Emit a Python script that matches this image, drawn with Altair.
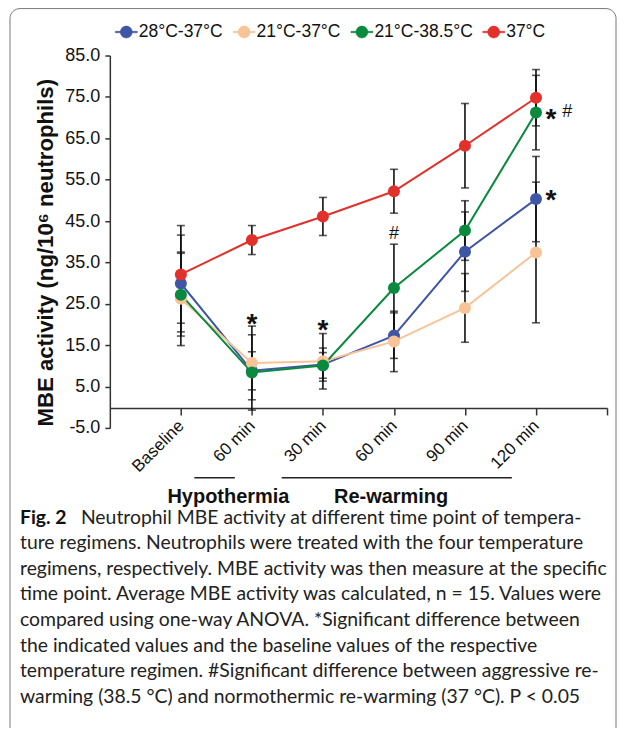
import altair as alt
import pandas as pd

FONT = "Liberation Sans"
CAPFONT = "Lato"

categories = ["Baseline", "60 min", "30 min", "60 min", "90 min", "120 min"]
positions = [1, 2, 3, 4, 5, 6]
series_names = ["28°C-37°C", "21°C-37°C", "21°C-38.5°C", "37°C"]
series_colors = ["#3F56A6", "#F8C497", "#0A8A3E", "#E2312A"]

mean_28_37 = [29.9, 8.8, 10.3, 17.3, 37.6, 50.3]
err_28_37 = [11.7, 4.6, 4.0, 5.5, 9.6, 10.3]
mean_21_37 = [26.2, 10.7, 11.1, 15.9, 24.0, 37.4]
err_21_37 = [11.3, 8.9, 6.7, 7.3, 8.3, 17.0]
mean_21_385 = [27.2, 8.4, 10.1, 28.8, 42.7, 71.2]
err_21_385 = [10.0, 9.1, 3.1, 10.6, 7.2, 9.0]
mean_37 = [32.1, 40.4, 46.1, 52.2, 63.2, 74.8]
err_37 = [11.8, 3.5, 4.6, 5.3, 10.2, 6.8]

star_pos = [2, 3, 6.21, 6.21]
star_val = [21.7, 20.3, 71.4, 51.8]
hash_pos = [4, 6.44]
hash_val = [42.2, 71.6]

phase_names = ["Hypothermia", "Re-warming"]
phase_start = [1.19, 2.42]
phase_end = [1.76, 5.66]
phase_label_pos = [1.67, 3.96]

y_ticks = [-5, 5, 15, 25, 35, 45, 55, 65, 75, 85]
y_title = "MBE activity (ng/10⁶ neutrophils)"

caption_bold = "Fig. 2"
caption_first = "Neutrophil MBE activity at different time point of tempera-"
caption_rest = [
    "ture regimens. Neutrophils were treated with the four temperature",
    "regimens, respectively. MBE activity was then measure at the specific",
    "time point. Average MBE activity was calculated, n = 15. Values were",
    "compared using one-way ANOVA. *Significant difference between",
    "the indicated values and the baseline values of the respective",
    "temperature regimen. #Significant difference between aggressive re-",
    "warming (38.5 °C) and normothermic re-warming (37 °C). P < 0.05",
]

rows = []
for name, means, errs in zip(series_names,
                             [mean_28_37, mean_21_37, mean_21_385, mean_37],
                             [err_28_37, err_21_37, err_21_385, err_37]):
    for p, m, e in zip(positions, means, errs):
        rows.append({"series": name, "pos": p, "mean": m, "lo": m - e, "hi": m + e})
df = pd.DataFrame(rows)

xs = alt.Scale(domain=[0, 7], nice=False, zero=False)
ys = alt.Scale(domain=[-5, 85], nice=False, zero=False)
cscale = alt.Scale(domain=series_names, range=series_colors)

sym_path = ("M-1,-0.065H-0.5V0.065H-1Z M0.5,-0.065H1V0.065H0.5Z "
            "M0.545,0A0.545,0.545,0,1,1,-0.545,0A0.545,0.545,0,1,1,0.545,0Z")
leg = alt.Legend(title=None, orient="none", legendX=5, legendY=-35,
                 direction="horizontal", symbolType=sym_path, symbolSize=484,
                 symbolStrokeWidth=0.5, labelFont=FONT, labelFontSize=17.5,
                 labelColor="#111", labelOffset=1, columnPadding=8, padding=0)

label_list = [""] + categories + [""]
label_expr = "[" + ",".join("'" + c + "'" for c in label_list) + "][datum.value]"

xaxis = alt.Axis(values=[1, 2, 3, 4, 5, 6, 7], labelExpr=label_expr, labelAngle=315,
                 labelAlign="right", labelBaseline="middle", labelFont=FONT,
                 labelFontSize=17, labelColor="#111", labelPadding=8, tickSize=7,
                 tickColor="#333", tickWidth=1.5, domainColor="#333", domainWidth=1.5,
                 offset=-20, grid=False, title=None, labelOverlap=False, labelFlush=False)
yaxis = alt.Axis(values=y_ticks,
                 labelExpr="datum.value < 0 ? '-' + format(-datum.value, '.1f') : format(datum.value, '.1f')",
                 labelFont=FONT, labelFontSize=18, labelColor="#111", labelPadding=5,
                 tickSize=5, tickColor="#333", tickWidth=1.5, domainColor="#333",
                 domainWidth=1.5, grid=False, title=y_title, titleFont=FONT,
                 titleFontSize=22.2, titleFontWeight="bold", titleColor="#111",
                 titleX=-64, titleY=197, titleAngle=270, titleAlign="center",
                 titleBaseline="middle", labelOverlap=False)

base = alt.Chart(df)

err_rule = base.mark_rule(color="#111", strokeWidth=1.6).encode(
    x=alt.X("pos:Q", scale=xs, axis=xaxis),
    y=alt.Y("lo:Q", scale=ys, axis=yaxis), y2="hi:Q")
cap_lo = base.mark_tick(orient="horizontal", size=8, thickness=1.6, color="#111").encode(
    x=alt.X("pos:Q", scale=xs, axis=xaxis), y=alt.Y("lo:Q", scale=ys, axis=yaxis))
cap_hi = base.mark_tick(orient="horizontal", size=8, thickness=1.6, color="#111").encode(
    x=alt.X("pos:Q", scale=xs, axis=xaxis), y=alt.Y("hi:Q", scale=ys, axis=yaxis))

lines = base.mark_line(strokeWidth=2).encode(
    x=alt.X("pos:Q", scale=xs, axis=xaxis),
    y=alt.Y("mean:Q", scale=ys, axis=yaxis),
    color=alt.Color("series:N", scale=cscale, legend=leg))
points = base.mark_point(filled=True, size=145, opacity=1, shape="circle").encode(
    x=alt.X("pos:Q", scale=xs, axis=xaxis),
    y=alt.Y("mean:Q", scale=ys, axis=yaxis),
    color=alt.Color("series:N", scale=cscale, legend=leg))

stars = alt.Chart(pd.DataFrame({"pos": star_pos, "val": star_val, "t": ["*"] * len(star_pos)})).mark_text(
    font=FONT, fontSize=28, fontWeight="bold", color="#111", dy=8, baseline="middle").encode(
    x=alt.X("pos:Q", scale=xs, axis=xaxis), y=alt.Y("val:Q", scale=ys, axis=yaxis), text="t:N")
hashes = alt.Chart(pd.DataFrame({"pos": hash_pos, "val": hash_val, "t": ["#"] * len(hash_pos)})).mark_text(
    font=FONT, fontSize=18, color="#111", dy=1, baseline="middle").encode(
    x=alt.X("pos:Q", scale=xs, axis=xaxis), y=alt.Y("val:Q", scale=ys, axis=yaxis), text="t:N")

phase_df = pd.DataFrame({"name": phase_names, "start": phase_start, "end": phase_end,
                         "lab": phase_label_pos})
phase_rules = alt.Chart(phase_df).mark_rule(color="#222", strokeWidth=1.5).encode(
    x=alt.X("start:Q", scale=xs, axis=xaxis), x2="end:Q", y=alt.value(423))
phase_text = alt.Chart(phase_df).mark_text(
    font=FONT, fontSize=20, fontWeight="bold", color="#111", baseline="middle").encode(
    x=alt.X("lab:Q", scale=xs, axis=xaxis), y=alt.value(442), text="name:N")

one = pd.DataFrame({"a": [caption_bold], "b": [caption_first], "c": ["\n".join(caption_rest)]})
cap_a = alt.Chart(one).mark_text(font=CAPFONT, fontSize=19.4, fontWeight="bold", color="#111",
                                 align="left", baseline="alphabetic").encode(
    text="a:N", x=alt.value(-90), y=alt.value(469))
cap_b = alt.Chart(one).mark_text(font=CAPFONT, fontSize=19.4, color="#222",
                                 align="left", baseline="alphabetic").encode(
    text="b:N", x=alt.value(-29), y=alt.value(469))
cap_c = alt.Chart(one).mark_text(font=CAPFONT, fontSize=19.4, color="#222", lineBreak="\n",
                                 lineHeight=25.6, align="left", baseline="alphabetic").encode(
    text="c:N", x=alt.value(-90), y=alt.value(494.6))

frame = alt.Chart(pd.DataFrame({"k": [0]})).mark_rect(
    fill=None, stroke="#777", strokeWidth=1, cornerRadius=10).encode(
    x=alt.value(-100), x2=alt.value(507), y=alt.value(-47), y2=alt.value(700))

chart = alt.layer(frame, err_rule, cap_lo, cap_hi, lines, points, stars, hashes,
                  phase_rules, phase_text, cap_a, cap_b, cap_c).properties(
    width=498, height=373,
    padding={"left": 102, "top": 47, "right": 12, "bottom": 300},
    autosize=alt.AutoSizeParams(type="none"),
).configure_view(stroke=None)

chart.save("out.html", embed_options={"renderer": "svg", "actions": False})
